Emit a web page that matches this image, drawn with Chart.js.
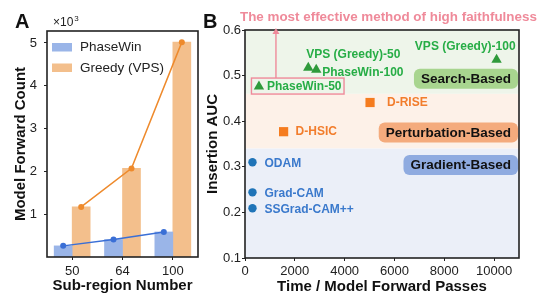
<!DOCTYPE html>
<html>
<head>
<meta charset="utf-8">
<script src="https://cdn.jsdelivr.net/npm/chart.js@4.4.1/dist/chart.umd.min.js"></script>
<style>
  body { margin: 0; background: #fff; }
  #wrap { position: relative; width: 548px; height: 305px; }
  #chart-a { position: absolute; left: 0; top: 0; }
  #chart-b { position: absolute; left: 200px; top: 0; }
</style>
</head>
<body>
<div id="wrap">
  <canvas id="chart-a" width="200" height="305"></canvas>
  <canvas id="chart-b" width="348" height="305"></canvas>
</div>
<script>
// panel A
const subRegions = ['50', '64', '100'];
const phaseWinCount = [260, 410, 585];
const greedyCount = [1170, 2070, 5020];
const yTicksA = [1000, 2000, 3000, 4000, 5000];

// panel B
const searchNames = ['PhaseWin-50', 'VPS (Greedy)-50', 'PhaseWin-100', 'VPS (Greedy)-100'];
const searchTime = [560, 2540, 2860, 10100];
const searchAuc = [0.476, 0.517, 0.513, 0.535];
const perturbNames = ['D-RISE', 'D-HSIC'];
const perturbTime = [5020, 1550];
const perturbAuc = [0.441, 0.377];
const gradientNames = ['ODAM', 'Grad-CAM', 'SSGrad-CAM++'];
const gradientTime = [300, 300, 300];
const gradientAuc = [0.31, 0.244, 0.209];
const xTicksB = [0, 2000, 4000, 6000, 8000, 10000];

Chart.defaults.font.family = '"Liberation Sans", Arial, sans-serif';
Chart.defaults.color = '#222';

const FONT = '"Liberation Sans", Arial, sans-serif';

const frame = {
  id: 'frame',
  afterDraw(chart) {
    const { ctx, chartArea: a } = chart;
    ctx.save();
    ctx.strokeStyle = '#222';
    ctx.lineWidth = 1.6;
    ctx.strokeRect(a.left, a.top, a.right - a.left, a.bottom - a.top);
    ctx.restore();
  },
};

// trend line over the tops of each bar series
const trendLines = {
  id: 'trendLines',
  afterDatasetsDraw(chart) {
    const { ctx, scales } = chart;
    ctx.save();
    chart.data.datasets.forEach((d, di) => {
      const bars = chart.getDatasetMeta(di).data;
      const pts = bars.map((b, i) => [b.x, scales.y.getPixelForValue(d.data[i])]);
      ctx.strokeStyle = d.lineColor;
      ctx.fillStyle = d.lineColor;
      ctx.lineWidth = 1.5;
      ctx.beginPath();
      pts.forEach(([x, y], i) => (i ? ctx.lineTo(x, y) : ctx.moveTo(x, y)));
      ctx.stroke();
      pts.forEach(([x, y]) => {
        ctx.beginPath();
        ctx.arc(x, y, 3, 0, Math.PI * 2);
        ctx.fill();
      });
    });
    ctx.restore();
  },
};

// legend, panel letter and the x10^3 offset text for A
const panelA = {
  id: 'panelA',
  afterDraw(chart) {
    const { ctx, chartArea: a } = chart;
    ctx.save();
    ctx.fillStyle = '#111';
    ctx.font = 'bold 20px ' + FONT;
    ctx.textBaseline = 'alphabetic';
    ctx.fillText('A', 15, 28);
    ctx.font = '12px ' + FONT;
    ctx.fillStyle = '#222';
    ctx.fillText('\u00d710', a.left + 6, 26);
    const w = ctx.measureText('\u00d710').width;
    ctx.font = '8px ' + FONT;
    ctx.fillText('3', a.left + 6 + w + 1, 21);

    chart.data.datasets.forEach((d, i) => {
      const y = a.top + 12 + i * 20.5;
      ctx.fillStyle = d.backgroundColor;
      ctx.fillRect(a.left + 5, y, 20, 8.5);
      ctx.fillStyle = '#222';
      ctx.font = '13.5px ' + FONT;
      ctx.textBaseline = 'middle';
      ctx.fillText(d.label, a.left + 33, y + 4.5);
    });
    ctx.restore();
  },
};

new Chart(document.getElementById('chart-a'), {
  type: 'bar',
  data: {
    labels: subRegions,
    datasets: [
      {
        label: 'PhaseWin',
        data: phaseWinCount,
        backgroundColor: '#9ab5e8',
        lineColor: '#3a6fd6',
        barThickness: 18,
      },
      {
        label: 'Greedy (VPS)',
        data: greedyCount,
        backgroundColor: '#f3bf8c',
        lineColor: '#ee8a2c',
        barThickness: 18,
      },
    ],
  },
  options: {
    responsive: false,
    animation: false,
    layout: { padding: { top: 31, right: 2, left: 0, bottom: 0 } },
    plugins: { legend: { display: false }, tooltip: { enabled: false } },
    scales: {
      x: {
        type: 'category',
        offset: true,
        grid: { offset: false, drawOnChartArea: false, tickLength: 3, color: '#222' },
        border: { display: false },
        ticks: { font: { size: 13 }, color: '#222', padding: 4 },
        title: {
          display: true,
          text: 'Sub-region Number',
          font: { size: 15, weight: 'bold' },
          color: '#111',
          padding: 10,
        },
        afterFit: (s) => { s.height = 48; },
      },
      y: {
        type: 'linear',
        min: 0,
        max: 5280,
        grid: { drawOnChartArea: false, tickLength: 3, color: '#222' },
        border: { display: false },
        afterBuildTicks: (s) => {
          s.ticks = yTicksA.map((v) => ({ value: v }));
        },
        ticks: {
          font: { size: 13 },
          color: '#222',
          padding: 7,
          callback: (v) => String(v / 1000),
        },
        title: {
          display: true,
          text: 'Model Forward Count',
          font: { size: 15, weight: 'bold' },
          color: '#111',
          padding: 12,
        },
        afterFit: (s) => { s.width = 47; },
      },
    },
  },
  plugins: [frame, trendLines, panelA],
});

// ---------- panel B ----------
const bandLimits = [0.6, 0.46, 0.34, 0.1];
const bandColors = ['#eef5ea', '#fdf1e8', '#ebeff8'];

const labelPlace = {
  'PhaseWin-50': [8, 0, 'left'],
  'VPS (Greedy)-50': [-2, -13, 'left'],
  'PhaseWin-100': [6, 3, 'left'],
  'VPS (Greedy)-100': [19, -13, 'right'],
  'D-RISE': [17, 0, 'left'],
  'D-HSIC': [12, 0, 'left'],
  ODAM: [12, 1, 'left'],
  'Grad-CAM': [12, 1, 'left'],
  'SSGrad-CAM++': [12, 1, 'left'],
};

const badges = [
  { text: 'Search-Based', fill: '#a8d58f', y: 0.493 },
  { text: 'Perturbation-Based', fill: '#f4ab7d', y: 0.375 },
  { text: 'Gradient-Based', fill: '#8fabe0', y: 0.304 },
];

const panelB = {
  id: 'panelB',
  beforeDatasetsDraw(chart) {
    const { ctx, chartArea: a, scales } = chart;
    ctx.save();
    for (let i = 0; i < bandColors.length; i++) {
      const y0 = scales.y.getPixelForValue(bandLimits[i]);
      const y1 = scales.y.getPixelForValue(bandLimits[i + 1]);
      ctx.fillStyle = bandColors[i];
      ctx.fillRect(a.left, y0, a.right - a.left, y1 - y0);
    }
    ctx.restore();
  },
  afterDatasetsDraw(chart) {
    const { ctx, chartArea: a, scales } = chart;
    ctx.save();
    // point labels
    ctx.font = 'bold 12px ' + FONT;
    ctx.textBaseline = 'middle';
    chart.data.datasets.forEach((d, di) => {
      const meta = chart.getDatasetMeta(di);
      meta.data.forEach((pt, i) => {
        const name = d.names[i];
        const [dx, dy, align] = labelPlace[name];
        ctx.fillStyle = d.textColor;
        ctx.textAlign = align;
        ctx.fillText(name, pt.x + dx, pt.y + dy);
      });
    });

    // group badges
    ctx.font = 'bold 13.5px ' + FONT;
    ctx.textAlign = 'center';
    badges.forEach((b) => {
      const w = ctx.measureText(b.text).width + 14;
      const cy = scales.y.getPixelForValue(b.y);
      const x0 = a.right - 1 - w;
      ctx.fillStyle = b.fill;
      ctx.beginPath();
      ctx.roundRect(x0, cy - 10, w, 20, 6);
      ctx.fill();
      ctx.fillStyle = '#111';
      ctx.fillText(b.text, x0 + w / 2, cy + 0.5);
    });

    // highlight box + arrow shaft on PhaseWin-50
    const best = chart.getDatasetMeta(0).data[0];
    ctx.font = 'bold 12px ' + FONT;
    const tw = ctx.measureText(searchNames[0]).width;
    ctx.strokeStyle = '#ef8a9a';
    ctx.lineWidth = 1.4;
    ctx.strokeRect(best.x - 7.5, best.y - 8.5, tw + 18, 16);
    const ax = best.x + 17;
    ctx.beginPath();
    ctx.moveTo(ax, best.y - 8.5);
    ctx.lineTo(ax, a.top + 2);
    ctx.stroke();
    ctx.restore();
  },
  afterDraw(chart) {
    const { ctx, chartArea: a } = chart;
    const best = chart.getDatasetMeta(0).data[0];
    const ax = best.x + 17;
    ctx.save();
    ctx.fillStyle = '#ef8a9a';
    ctx.beginPath();
    ctx.moveTo(ax, a.top - 2);
    ctx.lineTo(ax - 3.5, a.top + 4);
    ctx.lineTo(ax + 3.5, a.top + 4);
    ctx.closePath();
    ctx.fill();
    ctx.font = 'bold 13.4px ' + FONT;
    ctx.textBaseline = 'middle';
    ctx.textAlign = 'left';
    ctx.fillText('The most effective method of high faithfulness', a.left - 5, 17.5);
    ctx.fillStyle = '#111';
    ctx.font = 'bold 20px ' + FONT;
    ctx.textBaseline = 'alphabetic';
    ctx.fillText('B', 3, 28);
    ctx.restore();
  },
};

const toPoints = (xs, ys) => xs.map((x, i) => ({ x, y: ys[i] }));

new Chart(document.getElementById('chart-b'), {
  type: 'scatter',
  data: {
    datasets: [
      {
        label: 'Search-Based',
        data: toPoints(searchTime, searchAuc),
        names: searchNames,
        textColor: '#27ad46',
        pointStyle: 'triangle',
        pointRadius: 6,
        backgroundColor: '#2f9a3b',
        borderColor: '#2f9a3b',
        borderWidth: 0,
      },
      {
        label: 'Perturbation-Based',
        data: toPoints(perturbTime, perturbAuc),
        names: perturbNames,
        textColor: '#f27d2c',
        pointStyle: 'rect',
        pointRadius: 6.5,
        backgroundColor: '#f57c1f',
        borderColor: '#f57c1f',
        borderWidth: 0,
      },
      {
        label: 'Gradient-Based',
        data: toPoints(gradientTime, gradientAuc),
        names: gradientNames,
        textColor: '#3a79cc',
        pointStyle: 'circle',
        pointRadius: 4.2,
        backgroundColor: '#1f74b8',
        borderColor: '#1f74b8',
        borderWidth: 0,
      },
    ],
  },
  options: {
    responsive: false,
    animation: false,
    layout: { padding: { top: 30, right: 29, left: 0, bottom: 0 } },
    plugins: { legend: { display: false }, tooltip: { enabled: false } },
    scales: {
      x: {
        type: 'linear',
        min: 0,
        max: 11000,
        grid: { drawOnChartArea: false, tickLength: 3, color: '#222' },
        border: { display: false },
        afterBuildTicks: (s) => {
          s.ticks = xTicksB.map((v) => ({ value: v }));
        },
        ticks: { font: { size: 13 }, color: '#222', padding: 3, callback: (v) => String(v) },
        title: {
          display: true,
          text: 'Time / Model Forward Passes',
          font: { size: 15, weight: 'bold' },
          color: '#111',
          padding: 9,
        },
        afterFit: (s) => { s.height = 47; },
      },
      y: {
        min: 0.1,
        max: 0.6,
        grid: { drawOnChartArea: false, tickLength: 3, color: '#222' },
        border: { display: false },
        ticks: { stepSize: 0.1, font: { size: 13 }, color: '#222', padding: 1, callback: (v) => v.toFixed(1) },
        title: {
          display: true,
          text: 'Insertion AUC',
          font: { size: 15, weight: 'bold' },
          color: '#111',
          padding: 4,
        },
        afterFit: (s) => { s.width = 45; },
      },
    },
  },
  plugins: [frame, panelB],
});
</script>
</body>
</html>
